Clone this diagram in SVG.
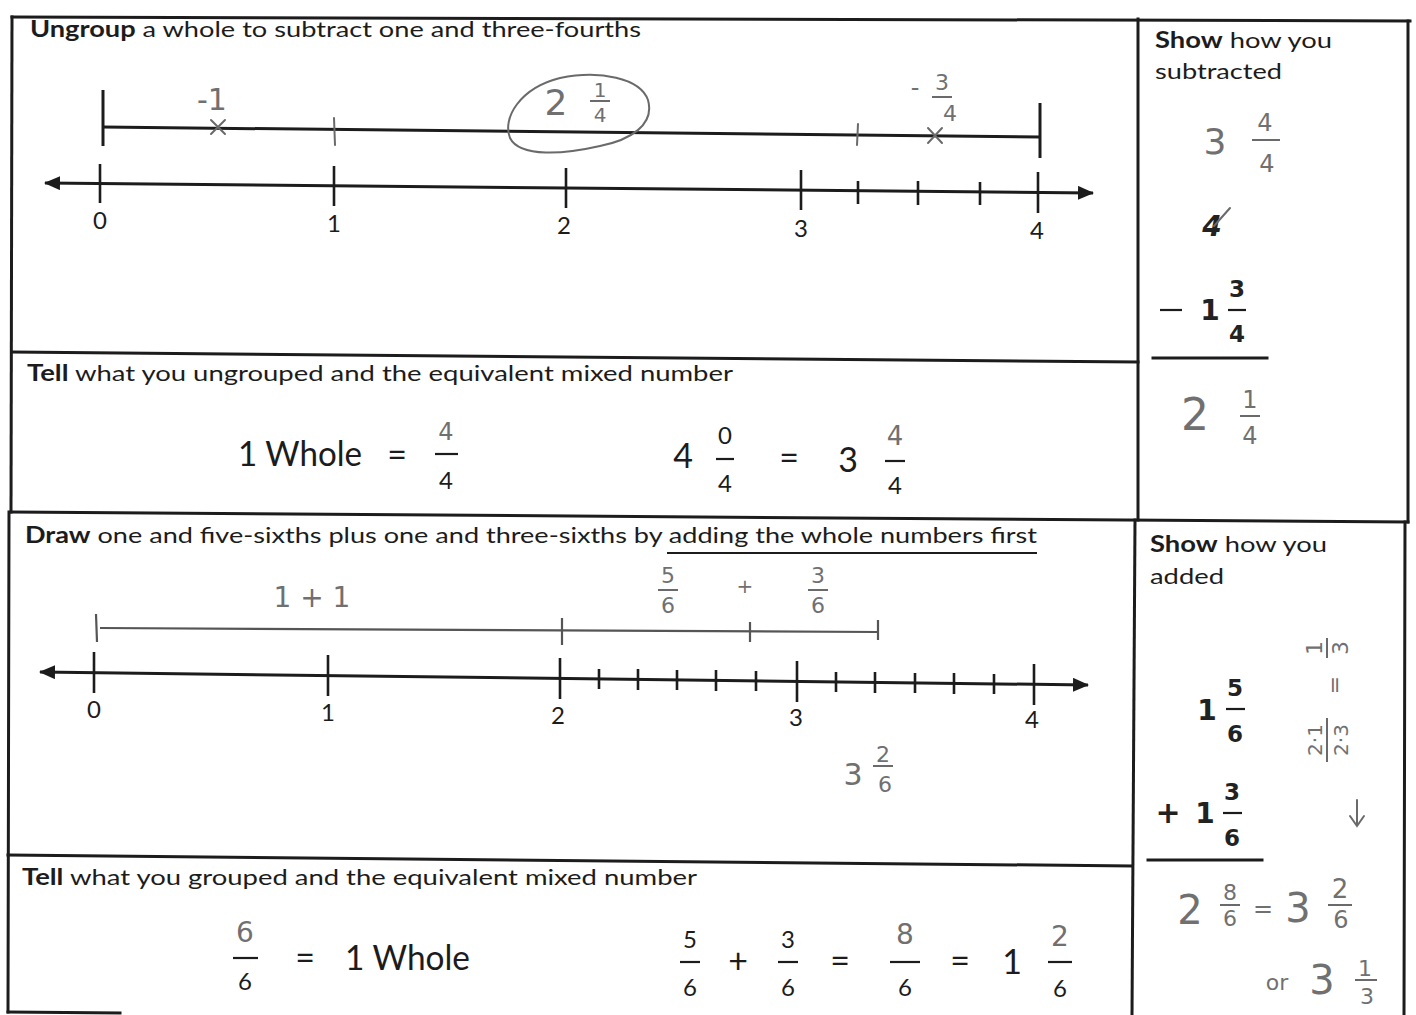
<svg xmlns="http://www.w3.org/2000/svg" width="1416" height="1015" viewBox="0 0 1416 1015">
<style>
.frame{stroke:#1c1c1c;stroke-width:3;fill:none;stroke-linecap:square}
.axis{stroke:#1c1c1c;stroke-width:3;fill:none}
.tick{stroke:#1c1c1c;stroke-width:2.6;fill:none}
.pen{stroke:#6a6a6a;stroke-width:2;fill:none;stroke-linecap:round}
.pencil{stroke:#555;stroke-width:2.2;fill:none}
.fl{stroke:#1c1c1c;stroke-width:2.2}
.hfl{stroke:#6a6a6a;stroke-width:2}
.pr{font-family:Lato,"Open Sans","Liberation Sans",sans-serif;font-size:22px;fill:#1c1c1c}
.b{font-weight:bold}
.num{font-family:Lato,"Liberation Sans",sans-serif;font-size:24px;fill:#1c1c1c;text-anchor:middle}
.big{font-family:Lato,"Liberation Sans",sans-serif;font-size:34px;fill:#1c1c1c}
.mid{text-anchor:middle}
.math{font-family:"DejaVu Sans","Liberation Sans",sans-serif;font-weight:bold;fill:#222;text-anchor:middle}
.hw{font-family:"DejaVu Sans","Liberation Sans",sans-serif;fill:#707070;text-anchor:middle}
</style>
<defs>
<marker id="ah" viewBox="0 0 16 14" refX="15" refY="7" markerWidth="16" markerHeight="14" markerUnits="userSpaceOnUse" orient="auto-start-reverse">
<path d="M0 0 L16 7 L0 14 Z" fill="#1c1c1c"/>
</marker>
</defs>

<g id="frames">
<path class="frame" d="M12 17 L1410 21"/>
<path class="frame" d="M12 17 L11 512"/>
<path class="frame" d="M9 512 L8 1012"/>
<path class="frame" d="M12 352 L1138 362"/>
<path class="frame" d="M11 512 L1408 522"/>
<path class="frame" d="M1138 19 L1138 520"/>
<path class="frame" d="M1408 21 L1408 522"/>
<path class="frame" d="M1135 520 L1132 1015"/>
<path class="frame" d="M1405 522 L1404 1015"/>
<path class="frame" d="M8 855 L1132 866"/>
<path class="frame" d="M8 1012 L120 1013"/>
</g>

<g id="ungroup">
<text class="pr" x="30" y="37" textLength="611" lengthAdjust="spacingAndGlyphs"><tspan class="b">Ungroup</tspan> a whole to subtract one and three-fourths</text>
<path class="axis" d="M103 127 L1040 137"/>
<path class="axis" d="M103 90 L103 146"/>
<path class="axis" d="M1040 103 L1040 158"/>
<path class="axis" d="M45 183 L1093 193" marker-start="url(#ah)" marker-end="url(#ah)"/>
<path class="tick" d="M100 164 L100 203 M334 166 L334 206 M566 168 L566 208 M801 170 L801 210 M1038 172 L1038 213"/>
<path class="tick" d="M858 181 L858 204 M918 181 L918 205 M980 182 L980 205"/>
<text class="num" x="100" y="229">0</text>
<text class="num" x="334" y="232">1</text>
<text class="num" x="564" y="234">2</text>
<text class="num" x="801" y="237">3</text>
<text class="num" x="1037" y="239">4</text>
<text class="hw" x="212" y="110" font-size="30">-1</text>
<path class="pen" stroke="#333" d="M211 120 L225 134 M225 120 L211 134"/>
<path class="pen" d="M334 118 L335 145"/>
<text class="hw" x="556" y="115" font-size="36">2</text>
<text class="hw" x="600" y="97" font-size="20">1</text>
<path class="hfl" d="M590 101 L610 101"/>
<text class="hw" x="600" y="122" font-size="20">4</text>
<path class="pen" stroke="#222" d="M560 78 C600 70 640 78 648 100 C655 125 630 140 600 146 C565 154 520 158 510 138 C502 118 520 88 560 78 Z"/>
<text class="hw" x="915" y="96" font-size="24">-</text>
<text class="hw" x="942" y="90" font-size="22">3</text>
<path class="hfl" d="M932 97 L952 97"/>
<text class="hw" x="950" y="121" font-size="22">4</text>
<path class="pen" stroke="#333" d="M858 124 L857 145"/>
<path class="pen" stroke="#333" d="M928 128 L942 143 M942 128 L928 143"/>
</g>

<g id="show-subtracted">
<text class="pr" x="1155" y="48" textLength="177" lengthAdjust="spacingAndGlyphs"><tspan class="b">Show</tspan> how you</text>
<text class="pr" x="1155" y="79" textLength="127" lengthAdjust="spacingAndGlyphs">subtracted</text>
<text class="hw" x="1215" y="154" font-size="36">3</text>
<text class="hw" x="1265" y="131" font-size="24">4</text>
<path class="hfl" d="M1252 140 L1280 140"/>
<text class="hw" x="1267" y="172" font-size="24">4</text>
<text class="math" x="1212" y="236" font-size="28" font-style="italic" fill="#222">4</text>
<path class="pen" stroke="#222" d="M1214 226 L1230 208"/>
<path class="fl" d="M1160 310 L1182 310"/>
<text class="math" x="1210" y="320" font-size="28">1</text>
<text class="math" x="1237" y="297" font-size="23">3</text>
<path class="fl" d="M1228 310 L1246 310"/>
<text class="math" x="1237" y="342" font-size="23">4</text>
<path class="frame" d="M1153 358 L1267 358"/>
<text class="hw" x="1195" y="430" font-size="44">2</text>
<text class="hw" x="1250" y="408" font-size="24">1</text>
<path class="hfl" d="M1240 416 L1260 416"/>
<text class="hw" x="1250" y="444" font-size="24">4</text>
</g>

<g id="tell-ungrouped">
<text class="pr" x="27" y="381" textLength="706" lengthAdjust="spacingAndGlyphs"><tspan class="b">Tell</tspan> what you ungrouped and the equivalent mixed number</text>
<text class="big" x="238" y="466" textLength="124" lengthAdjust="spacingAndGlyphs">1 Whole</text>
<text class="big mid" x="397" y="467" font-size="30">=</text>
<text class="hw" x="446" y="440" font-size="24">4</text>
<path class="fl" d="M435 454 L458 454"/>
<text class="num" x="446" y="489" font-size="26">4</text>
<text class="big mid" x="683" y="468" font-size="32">4</text>
<text class="num" x="725" y="444" font-size="26">0</text>
<path class="fl" d="M716 459 L734 459"/>
<text class="num" x="725" y="492" font-size="26">4</text>
<text class="big mid" x="789" y="470" font-size="32">=</text>
<text class="big mid" x="848" y="472" font-size="32">3</text>
<text class="hw" x="895" y="445" font-size="26">4</text>
<path class="fl" d="M885 461 L905 461"/>
<text class="num" x="895" y="494" font-size="26">4</text>
</g>

<g id="draw-add">
<text class="pr" x="25" y="543" textLength="1012" lengthAdjust="spacingAndGlyphs"><tspan class="b">Draw</tspan> one and five-sixths plus one and three-sixths by adding the whole numbers first</text>
<path class="fl" d="M667 553 L1037 553"/>
<path class="pencil" d="M100 628 L878 632"/>
<path class="pencil" d="M96 614 L97 642 M562 618 L562 645 M750 622 L750 642 M878 620 L878 640"/>
<text class="hw" x="312" y="607" font-size="28">1 + 1</text>
<text class="hw" x="668" y="583" font-size="22">5</text>
<path class="hfl" d="M658 590 L678 590"/>
<text class="hw" x="668" y="613" font-size="22">6</text>
<text class="hw" x="745" y="593" font-size="20">+</text>
<text class="hw" x="818" y="583" font-size="22">3</text>
<path class="hfl" d="M808 590 L828 590"/>
<text class="hw" x="818" y="613" font-size="22">6</text>
<path class="axis" d="M40 672 L1088 685" marker-start="url(#ah)" marker-end="url(#ah)"/>
<path class="tick" d="M94 652 L94 693 M328 655 L328 696 M560 658 L560 699 M797 661 L797 702 M1034 664 L1034 705"/>
<path class="tick" d="M599 669 L599 689 M638 669 L638 690 M677 670 L677 690 M716 670 L716 691 M756 671 L756 691 M836 672 L836 692 M875 672 L875 693 M915 673 L915 693 M954 673 L954 694 M994 674 L994 694"/>
<text class="num" x="94" y="718">0</text>
<text class="num" x="328" y="721">1</text>
<text class="num" x="558" y="724">2</text>
<text class="num" x="796" y="726">3</text>
<text class="num" x="1032" y="728">4</text>
<text class="hw" x="853" y="785" font-size="30">3</text>
<text class="hw" x="883" y="762" font-size="22">2</text>
<path class="hfl" d="M873 766 L893 766"/>
<text class="hw" x="885" y="792" font-size="22">6</text>
</g>

<g id="show-added">
<text class="pr" x="1150" y="552" textLength="177" lengthAdjust="spacingAndGlyphs"><tspan class="b">Show</tspan> how you</text>
<text class="pr" x="1150" y="584" textLength="74" lengthAdjust="spacingAndGlyphs">added</text>
<text class="math" x="1207" y="720" font-size="28">1</text>
<text class="math" x="1235" y="696" font-size="23">5</text>
<path class="fl" d="M1226 709 L1245 709"/>
<text class="math" x="1235" y="742" font-size="23">6</text>
<text class="math" x="1168" y="823" font-size="30">+</text>
<text class="math" x="1205" y="823" font-size="28">1</text>
<text class="math" x="1232" y="800" font-size="23">3</text>
<path class="fl" d="M1223 813 L1242 813"/>
<text class="math" x="1232" y="846" font-size="23">6</text>
<path class="frame" d="M1148 860 L1262 860"/>
<g transform="translate(1328 700) rotate(-90)">
<text class="hw" x="-40" y="-6" font-size="20" fill="#8a8a8a">2·1</text>
<path class="hfl" d="M-62 -1 L-18 -1"/>
<text class="hw" x="-40" y="20" font-size="20" fill="#8a8a8a">2·3</text>
<text class="hw" x="15" y="14" font-size="22">=</text>
<text class="hw" x="52" y="-6" font-size="22">1</text>
<path class="hfl" d="M42 -1 L62 -1"/>
<text class="hw" x="52" y="20" font-size="22">3</text>
</g>
<path class="pen" d="M1357 800 L1357 826 M1350 816 L1357 826 L1364 816"/>
<text class="hw" x="1190" y="924" font-size="40">2</text>
<text class="hw" x="1230" y="900" font-size="22">8</text>
<path class="hfl" d="M1220 905 L1240 905"/>
<text class="hw" x="1230" y="926" font-size="22">6</text>
<text class="hw" x="1263" y="917" font-size="24">=</text>
<text class="hw" x="1298" y="922" font-size="40">3</text>
<text class="hw" x="1340" y="898" font-size="26">2</text>
<path class="hfl" d="M1328 905 L1352 905"/>
<text class="hw" x="1341" y="928" font-size="24">6</text>
<text class="hw" x="1277" y="990" font-size="22">or</text>
<text class="hw" x="1322" y="994" font-size="40">3</text>
<text class="hw" x="1365" y="976" font-size="22">1</text>
<path class="hfl" d="M1355 980 L1377 980"/>
<text class="hw" x="1367" y="1004" font-size="22">3</text>
</g>

<g id="tell-grouped">
<text class="pr" x="22" y="885" textLength="675" lengthAdjust="spacingAndGlyphs"><tspan class="b">Tell</tspan> what you grouped and the equivalent mixed number</text>
<text class="hw" x="245" y="942" font-size="28">6</text>
<path class="fl" d="M233 958 L258 958"/>
<text class="num" x="245" y="990" font-size="26">6</text>
<text class="big mid" x="305" y="970" font-size="32">=</text>
<text class="big" x="345" y="970" textLength="125" lengthAdjust="spacingAndGlyphs">1 Whole</text>
<text class="num" x="690" y="948" font-size="26">5</text>
<path class="fl" d="M680 962 L700 962"/>
<text class="num" x="690" y="996" font-size="26">6</text>
<text class="big mid" x="738" y="973" font-size="36">+</text>
<text class="num" x="788" y="948" font-size="26">3</text>
<path class="fl" d="M778 962 L798 962"/>
<text class="num" x="788" y="996" font-size="26">6</text>
<text class="big mid" x="840" y="973" font-size="32">=</text>
<text class="hw" x="905" y="944" font-size="28">8</text>
<path class="fl" d="M890 962 L920 962"/>
<text class="num" x="905" y="996" font-size="26">6</text>
<text class="big mid" x="960" y="973" font-size="32">=</text>
<text class="big mid" x="1012" y="974" font-size="32">1</text>
<text class="hw" x="1060" y="946" font-size="28">2</text>
<path class="fl" d="M1048 962 L1072 962"/>
<text class="num" x="1060" y="997" font-size="26">6</text>
</g>
</svg>
